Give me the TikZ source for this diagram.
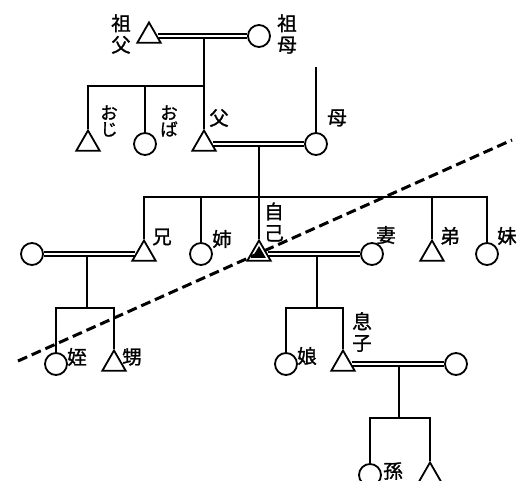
\documentclass[tikz,border=0pt]{standalone}
\usepackage{fontspec}
\newfontfamily\jpfont[FakeBold=1.2]{Noto Sans CJK JP}
\usepackage{tikz}
\usetikzlibrary{shapes.geometric}

\begin{document}
\begin{tikzpicture}[x=1pt, y=-1pt, line width=1.8pt,
	male/.style={draw, regular polygon, regular polygon sides=3, minimum size=27pt, inner sep=0pt},
	female/.style={draw, circle, minimum size=22pt, inner sep=0pt},
	couple/.style={double, double distance=2.6pt, line width=1.5pt},
	tag/.style={font=\jpfont\fontsize{19.5}{21.5}\selectfont, align=center, inner sep=0pt},
	kana/.style={font=\jpfont\fontsize{17.5}{16.5}\selectfont, align=center, inner sep=0pt},
	cut/.style={line width=3pt, dash pattern=on 10pt off 5pt}]
	
	\useasboundingbox (0,0) rectangle (517,481);
	\clip (0,0) rectangle (517,481);
	
	% Grandparents
	\node[male] (sofu) at (149,36) {};
	\node[female] (sobo) at (259,36) {};
	
	% Parents and their siblings
	\node[male] (oji) at (88,144) {};
	\node[female] (oba) at (145,144) {};
	\node[male] (chichi) at (204,144) {};
	\node[female] (haha) at (316,144) {};
	
	% Ego generation
	\node[female] (anine) at (32,254) {};
	\node[male] (ani) at (144,254) {};
	\node[female] (ane) at (201,254) {};
	\node[male] (ego) at (259,254) {};
	\node[regular polygon, regular polygon sides=3, minimum size=16pt, inner sep=0pt, fill] (egoin) at (ego) {};
	\node[female] (tsuma) at (372,254) {};
	\node[male] (ototo) at (432,254) {};
	\node[female] (imoto) at (487,254) {};
	
	% Children
	\node[female] (mei) at (56,364) {};
	\node[male] (oi) at (114,364) {};
	\node[female] (musume) at (286,364) {};
	\node[male] (musuko) at (343,364) {};
	\node[female] (yome) at (456,364) {};
	
	% Grandchildren
	\node[female] (magoF) at (370,475) {};
	\node[male] (magoM) at (430,476) {};
	
	% Sibling bars
	\coordinate (bar1) at (0,86);
	\coordinate (bar2) at (0,197);
	\coordinate (bar3) at (0,308);
	\coordinate (bar5) at (0,418);
	\coordinate (haha0) at (316,67);
	
	% Descent lines
	\draw (chichi |- sofu) -- (chichi.north);
	\draw (oji.north) -- (oji.north |- bar1) -- (chichi.north |- bar1);
	\draw (oba.north) -- (oba.north |- bar1);
	\draw (haha0) -- (haha.north);
	
	\draw (ego |- chichi) -- (ego.north);
	\draw (ani.north) -- (ani.north |- bar2) -- (imoto.north |- bar2) -- (imoto.north);
	\draw (ane.north) -- (ane.north |- bar2);
	\draw (ototo.north) -- (ototo.north |- bar2);
	
	\draw (87,254) -- (87,308);
	\draw (mei.north) |- (oi.north |- bar3) -- (oi.north);
	
	\draw (317,254) -- (317,308);
	\draw (musume.north) |- (musuko.north |- bar3) -- (musuko.north);
	
	\draw (399,364) -- (399,418);
	\draw (magoF.north) |- (magoM.north |- bar5) -- (magoM.north);
	
	% Marriages
	\draw[couple] (sofu) -- (sobo);
	\draw[couple] (chichi) -- (haha);
	\draw[couple] (anine) -- (ani);
	\draw[couple] (ego) -- (tsuma);
	\draw[couple] (musuko) -- (yome);
	
	% Labels
	\node[tag] (l-sofu) at (121,34) {祖\\父};
	\node[tag] (l-sobo) at (287,34) {祖\\母};
	\node[kana] (l-oji) at (109,121) {お\\じ};
	\node[kana] (l-oba) at (169,121) {お\\ば};
	\node[tag] (l-chichi) at (219,118) {父};
	\node[tag] (l-haha) at (337,118) {母};
	\node[tag] (l-ani) at (162,237) {兄};
	\node[tag] (l-ane) at (222,239) {姉};
	\node[tag] (l-ego) at (274,222) {自\\己};
	\node[tag] (l-tsuma) at (386,235) {妻};
	\node[tag] (l-ototo) at (450,236) {弟};
	\node[tag] (l-imoto) at (507,236) {妹};
	\node[tag] (l-mei) at (77,357) {姪};
	\node[tag] (l-oi) at (132,357) {甥};
	\node[tag] (l-musume) at (307,356) {娘};
	\node[tag] (l-musuko) at (362,332) {息\\子};
	\node[tag] (l-mago) at (393,471) {孫};
	
	% Dashed border
	\coordinate (cutA) at (18,361);
	\coordinate (cutB) at (512,140);
	\draw[cut] (cutA) -- (cutB);
	
\end{tikzpicture}
\end{document}
